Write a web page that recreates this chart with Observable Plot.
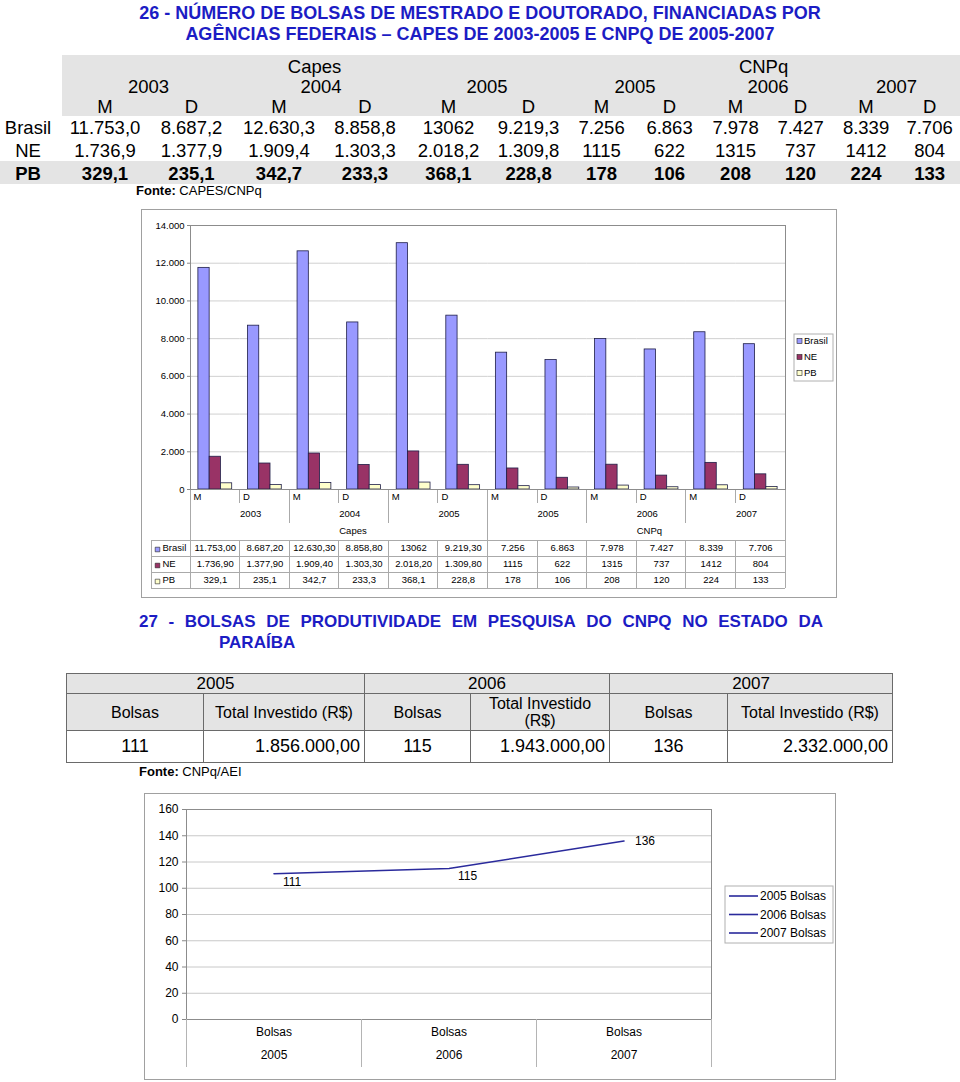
<!DOCTYPE html>
<html><head><meta charset="utf-8">
<script src="https://cdn.jsdelivr.net/npm/d3@7"></script>
<script src="https://cdn.jsdelivr.net/npm/@observablehq/plot@0.6"></script>
<style>
body{margin:0;background:#fff;font-family:"Liberation Sans",Arial,Helvetica,sans-serif;color:#000;}
#page{position:relative;width:960px;height:1082px;overflow:hidden;}
.title{position:absolute;color:#1c1cc4;font-weight:bold;}
#t1{position:absolute;left:0;top:55px;width:960px;border-collapse:collapse;table-layout:fixed;font-size:18.5px;}
#t1 td{padding:0;text-align:center;white-space:nowrap;vertical-align:middle;line-height:1;}
#t1 td span{position:relative;top:1px;}
#t1 tr.hd td span{top:2px;}
#t1 tr.pb td span{top:2px;}
#t1 tr.hd td{background:#e4e4e4;}
#t1 tr.hd td.c0{background:#fff;}
#t1 tr.pb td{background:#e4e4e4;font-weight:bold;}
#t1 td.c0{padding-right:6px;}
#t2{position:absolute;left:66px;top:673px;width:826px;border-collapse:collapse;table-layout:fixed;}
#t2 td{border:1px solid #6a6a6a;padding:0 3px;text-align:center;vertical-align:middle;}
#t2 tr.h td{background:#e4e4e4;font-size:16px;line-height:17px;}
#t2 tr.d td{font-size:18px;}
#t2 tr.d td.r{text-align:right;padding-right:4px;}
.fonte{position:absolute;font-size:13px;line-height:15px;}
.chart{position:absolute;}
</style></head>
<body><div id="page"></div>
<script>
// ---------------- DATA ----------------
const title1 = ["26 - NÚMERO DE BOLSAS DE MESTRADO E DOUTORADO, FINANCIADAS POR",
                "AGÊNCIAS FEDERAIS – CAPES DE 2003-2005 E CNPQ DE 2005-2007"];
const agencies = ["Capes", "CNPq"];
const years = ["2003", "2004", "2005", "2005", "2006", "2007"];
const yearAgency = ["Capes", "Capes", "Capes", "CNPq", "CNPq", "CNPq"];
const levels = ["M", "D"];
const series = ["Brasil", "NE", "PB"];
const brasil = [11753.0, 8687.2, 12630.3, 8858.8, 13062, 9219.3, 7256, 6863, 7978, 7427, 8339, 7706];
const ne = [1736.9, 1377.9, 1909.4, 1303.3, 2018.2, 1309.8, 1115, 622, 1315, 737, 1412, 804];
const pb = [329.1, 235.1, 342.7, 233.3, 368.1, 228.8, 178, 106, 208, 120, 224, 133];
// labels as printed in the top table
const brasilTxt = ["11.753,0", "8.687,2", "12.630,3", "8.858,8", "13062", "9.219,3", "7.256", "6.863", "7.978", "7.427", "8.339", "7.706"];
const neTxt = ["1.736,9", "1.377,9", "1.909,4", "1.303,3", "2.018,2", "1.309,8", "1115", "622", "1315", "737", "1412", "804"];
const pbTxt = ["329,1", "235,1", "342,7", "233,3", "368,1", "228,8", "178", "106", "208", "120", "224", "133"];
// labels as printed in the chart's data table
const brasilTbl = ["11.753,00", "8.687,20", "12.630,30", "8.858,80", "13062", "9.219,30", "7.256", "6.863", "7.978", "7.427", "8.339", "7.706"];
const neTbl = ["1.736,90", "1.377,90", "1.909,40", "1.303,30", "2.018,20", "1.309,80", "1115", "622", "1315", "737", "1412", "804"];
const pbTbl = ["329,1", "235,1", "342,7", "233,3", "368,1", "228,8", "178", "106", "208", "120", "224", "133"];
const fonte1 = ["Fonte:", "CAPES/CNPq"];
const yTicks1 = [0, 2000, 4000, 6000, 8000, 10000, 12000, 14000];

const title2 = ["27 - BOLSAS DE PRODUTIVIDADE EM PESQUISA DO CNPQ NO ESTADO DA", "PARAÍBA"];
const years2 = ["2005", "2006", "2007"];
const colHeads2 = ["Bolsas", "Total Investido (R$)"];
const bolsas2 = [111, 115, 136];
const investido2 = ["1.856.000,00", "1.943.000,00", "2.332.000,00"];
const fonte2 = ["Fonte:", "CNPq/AEI"];
const yTicks2 = [0, 20, 40, 60, 80, 100, 120, 140, 160];
const catLabel2 = "Bolsas";
const legend2 = ["2005 Bolsas", "2006 Bolsas", "2007 Bolsas"];

const colors = ["#9999ff", "#993366", "#ffffcc"];
const lineColor = "#2a2a9c";
const FONT = '"Liberation Sans", Arial, Helvetica, sans-serif';

// ---------------- derived ----------------
const cats = years.flatMap((yr, j) => levels.map(l => ({key: `${yearAgency[j]} ${yr} ${l}`, year: yr, agency: yearAgency[j], level: l})));
const keys = cats.map(c => c.key);
const values = {Brasil: brasil, NE: ne, PB: pb};
const tblText = {Brasil: brasilTbl, NE: neTbl, PB: pbTbl};
const topText = {Brasil: brasilTxt, NE: neTxt, PB: pbTxt};
const bars = cats.flatMap((c, i) => series.map(s => ({key: c.key, series: s, value: values[s][i]})));
const fmtPt = d => d3.format(",")(d).replace(/,/g, ".");

const page = document.getElementById("page");
const add = h => page.insertAdjacentHTML("beforeend", h);

// ---------------- Title 1 ----------------
add(`<div class="title" style="left:0;top:3px;width:960px;text-align:center;font-size:18px;line-height:21px">${title1[0]}<br>${title1[1]}</div>`);

// ---------------- Table 1 ----------------
{
  const widths = [62, 86, 87, 88, 84, 83, 77, 69, 67, 65, 65, 66, 61];
  const sp = t => `<span>${t}</span>`;
  let h = `<table id="t1"><colgroup>${widths.map(w => `<col style="width:${w}px">`).join("")}</colgroup>`;
  h += `<tr class="hd" style="height:20px"><td class="c0"></td>${agencies.map(a => `<td colspan="6">${sp(a)}</td>`).join("")}</tr>`;
  h += `<tr class="hd" style="height:20px"><td class="c0"></td>${years.map(y => `<td colspan="2">${sp(y)}</td>`).join("")}</tr>`;
  h += `<tr class="hd" style="height:21px"><td class="c0"></td>${cats.map(c => `<td>${sp(c.level)}</td>`).join("")}</tr>`;
  const hts = [23, 22, 23];
  series.forEach((s, k) => {
    h += `<tr class="${s === "PB" ? "pb" : ""}" style="height:${hts[k]}px"><td class="c0">${sp(s)}</td>${topText[s].map(t => `<td>${sp(t)}</td>`).join("")}</tr>`;
  });
  h += `</table>`;
  add(h);
}
add(`<div class="fonte" style="left:136px;top:183px"><b>${fonte1[0]}</b> ${fonte1[1]}</div>`);

// ---------------- Chart 1 ----------------
const W1 = 696, H1 = 389;
const chart1 = Plot.plot({
  width: W1, height: H1,
  marginLeft: 49, marginRight: 52, marginTop: 16, marginBottom: 109,
  style: {fontFamily: FONT, fontSize: "9.5px", color: "#000", background: "transparent", overflow: "visible"},
  fx: {domain: keys, paddingInner: 0, paddingOuter: 0, round: false, axis: null, label: null},
  x: {domain: series, paddingInner: 0, paddingOuter: 0.7, round: false, axis: null, label: null},
  y: {domain: [0, 14000], label: null},
  color: {domain: series, range: colors},
  marks: [
    Plot.ruleY(yTicks1, {stroke: "#d0d0d0"}),
    Plot.axisY({ticks: yTicks1, tickFormat: fmtPt, tickSize: 3, tickPadding: 3, stroke: "#888", label: null}),
    Plot.barY(bars, {fx: "key", x: "series", y: "value", fill: "series", stroke: "#1e1e48", strokeWidth: 0.8}),
    Plot.text(cats, {fx: "key", text: "level", frameAnchor: "bottom-left", textAnchor: "start", dx: 3, dy: 10}),
    Plot.text(cats.filter(c => c.level === "D"), {fx: "key", text: "year", frameAnchor: "bottom-left", dy: 27}),
    Plot.text(agencies.map(a => ({agency: a, key: keys[cats.findIndex(c => c.agency === a) + keys.filter((k, i) => cats[i].agency === a).length / 2]})),
      {fx: "key", text: "agency", frameAnchor: "bottom-left", dy: 44}),
    ...series.map((s, k) => Plot.text(cats, {fx: "key", text: (c, i) => tblText[s][i], frameAnchor: "bottom", dy: 61 + 16 * k})),
    ...series.map((s, k) => Plot.text([s], {fx: () => keys[0], text: d => d, frameAnchor: "bottom-left", textAnchor: "start", dx: -28, dy: 61 + 16 * k})),
    ...series.map((s, k) => Plot.dot([s], {fx: () => keys[0], fill: d => d, symbol: "square", r: 2.6, stroke: "#222", strokeWidth: 0.6, frameAnchor: "bottom-left", dx: -33, dy: 60 + 16 * k}))
  ]
});
{
  const wrap = document.createElement("div");
  wrap.className = "chart"; wrap.style.left = "141px"; wrap.style.top = "209px";
  wrap.appendChild(chart1); page.appendChild(wrap);
  const svg = d3.select(chart1);
  const fxS = chart1.scale("fx"), yS = chart1.scale("y"), cS = chart1.scale("color");
  const n = keys.length;
  const L = i => i < n ? fxS.apply(keys[i]) : fxS.apply(keys[n - 1]) + fxS.bandwidth;
  const xl = L(0), xr = L(n), yt = yS.apply(14000), yb = yS.apply(0);
  const g = svg.append("g").attr("fill", "none").attr("stroke", "#aaaaaa").attr("shape-rendering", "crispEdges");
  const line = (x1, y1, x2, y2) => g.append("line").attr("x1", x1).attr("y1", y1).attr("x2", x2).attr("y2", y2);
  const tableLeft = 10;
  [51, 67, 83, 99].forEach(d => line(tableLeft, yb + d, xr, yb + d));
  line(tableLeft, yb + 51, tableLeft, yb + 99);
  for (let i = 0; i <= n; i++) {
    let depth;
    if (i === 0 || i === n || cats[i].agency !== cats[i - 1].agency) depth = 99;
    else if (cats[i].level === levels[0]) depth = 34;
    else depth = 14;
    line(L(i), yb, L(i), yb + depth);
    if (depth < 99) line(L(i), yb + 51, L(i), yb + 99);
  }
  g.append("rect").attr("x", xl).attr("y", yt).attr("width", xr - xl).attr("height", yb - yt).attr("stroke", "#8c8c8c");
  svg.append("rect").attr("x", 0.5).attr("y", 0.5).attr("width", W1 - 1).attr("height", H1 - 1).attr("fill", "none").attr("stroke", "#a0a0a0");
  // legend
  const lg = svg.append("g").attr("transform", `translate(${xr + 9},${125})`).attr("text-anchor", "start");
  lg.append("rect").attr("width", 39).attr("height", 47).attr("fill", "#fff").attr("stroke", "#b0b0b0");
  series.forEach((s, k) => {
    lg.append("rect").attr("x", 3).attr("y", 7 + 16 * k - 2.5).attr("width", 5).attr("height", 5).attr("fill", cS.apply(s)).attr("stroke", "#222").attr("stroke-width", 0.6);
    lg.append("text").attr("x", 10).attr("y", 7 + 16 * k).attr("dy", "0.35em").attr("text-anchor", "start").attr("font-size", 9.5).attr("fill", "#000").text(s);
  });
}

// ---------------- Title 2 ----------------
add(`<div class="title" style="left:139px;top:612px;width:684px;font-size:17px;line-height:20px;white-space:nowrap;display:flex;justify-content:space-between">${title2[0].split(" ").map(w => `<span>${w}</span>`).join("")}</div>`);
add(`<div class="title" style="left:219px;top:633px;font-size:17px;line-height:20px">${title2[1]}</div>`);

// ---------------- Table 2 ----------------
{
  const widths = [137, 161, 106, 139, 118, 165];
  let h = `<table id="t2"><colgroup>${widths.map(w => `<col style="width:${w}px">`).join("")}</colgroup>`;
  h += `<tr class="h" style="height:20px">${years2.map(y => `<td colspan="2" style="font-size:17px">${y}</td>`).join("")}</tr>`;
  h += `<tr class="h" style="height:37px">${years2.map(() => colHeads2.map(c => `<td>${c}</td>`).join("")).join("")}</tr>`;
  h += `<tr class="d" style="height:32px">${years2.map((y, i) => `<td>${bolsas2[i]}</td><td class="r">${investido2[i]}</td>`).join("")}</tr>`;
  h += `</table>`;
  add(h);
}
add(`<div class="fonte" style="left:139px;top:764px"><b>${fonte2[0]}</b> ${fonte2[1]}</div>`);

// ---------------- Chart 2 ----------------
const W2 = 692, H2 = 287;
const pts = years2.map((y, i) => ({year: y, value: bolsas2[i]}));
const chart2 = Plot.plot({
  width: W2, height: H2,
  marginLeft: 42, marginRight: 125, marginTop: 16, marginBottom: 61,
  style: {fontFamily: FONT, fontSize: "12px", color: "#000", background: "transparent", overflow: "visible"},
  x: {type: "band", domain: years2, paddingInner: 0, paddingOuter: 0, round: false, axis: null, label: null},
  y: {domain: [0, 160], label: null},
  marks: [
    Plot.ruleY(yTicks2, {stroke: "#c8c8c8"}),
    Plot.frame({stroke: "#8c8c8c"}),
    Plot.axisY({ticks: yTicks2, tickSize: 4, tickPadding: 4, stroke: "#888", label: null}),
    Plot.line(pts, {x: "year", y: "value", stroke: lineColor, strokeWidth: 1.6}),
    Plot.text(pts.slice(0, 2), {x: "year", y: "value", text: d => String(d.value), textAnchor: "start", dx: 9, dy: 8}),
    Plot.text(pts.slice(2), {x: "year", y: "value", text: d => String(d.value), textAnchor: "start", dx: 11, dy: 0}),
    Plot.text(pts, {x: "year", text: () => catLabel2, frameAnchor: "bottom", dy: 16}),
    Plot.text(pts, {x: "year", text: "year", frameAnchor: "bottom", dy: 39})
  ]
});
{
  const wrap = document.createElement("div");
  wrap.className = "chart"; wrap.style.left = "144px"; wrap.style.top = "793px";
  wrap.appendChild(chart2); page.appendChild(wrap);
  const svg = d3.select(chart2);
  const xS = chart2.scale("x"), yS = chart2.scale("y");
  const yb = yS.apply(0);
  const edges = years2.map(y => xS.apply(y)).concat([xS.apply(years2[years2.length - 1]) + xS.bandwidth]);
  const g = svg.append("g").attr("stroke", "#b4b4b4").attr("shape-rendering", "crispEdges");
  edges.forEach(x => g.append("line").attr("x1", x).attr("x2", x).attr("y1", yb).attr("y2", yb + 48));
  svg.append("rect").attr("x", 0.5).attr("y", 0.5).attr("width", W2 - 1).attr("height", H2 - 1).attr("fill", "none").attr("stroke", "#a0a0a0");
  const xr = edges[edges.length - 1];
  const lg = svg.append("g").attr("transform", `translate(${xr + 14},93)`).attr("text-anchor", "start");
  lg.append("rect").attr("width", 108).attr("height", 57).attr("fill", "#fff").attr("stroke", "#b0b0b0");
  legend2.forEach((t, k) => {
    const yy = 10 + 18.5 * k;
    lg.append("line").attr("x1", 4).attr("x2", 33).attr("y1", yy).attr("y2", yy).attr("stroke", lineColor).attr("stroke-width", 1.6);
    lg.append("text").attr("x", 35).attr("y", yy).attr("dy", "0.35em").attr("text-anchor", "start").attr("font-size", 12).attr("fill", "#000").text(t);
  });
}
</script>
</body></html>
